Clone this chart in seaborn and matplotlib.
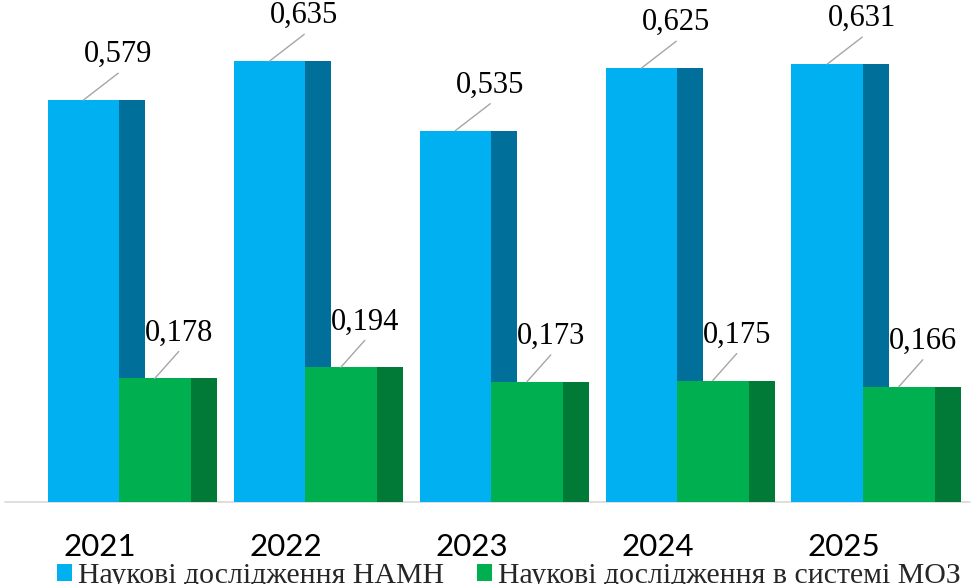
import matplotlib
matplotlib.use("Agg")
import matplotlib.pyplot as plt
import seaborn as sns
import pandas as pd
from matplotlib.patches import Rectangle, Patch

years = ["2021", "2022", "2023", "2024", "2025"]
series_names = ["Наукові дослідження НАМН", "Наукові дослідження в системі МОЗ"]
namn_values = [0.579, 0.635, 0.535, 0.625, 0.631]
moz_values = [0.178, 0.194, 0.173, 0.175, 0.166]

front_colors = ["#00B0F0", "#00B050"]
side_colors = ["#006F9A", "#007A36"]

df = pd.DataFrame({
    "year": years * 2,
    "series": [series_names[0]] * len(years) + [series_names[1]] * len(years),
    "value": namn_values + moz_values,
})

sns.set_style("white")
plt.rcParams["font.family"] = ["DejaVu Sans"]

W, H = 974, 584
fig = plt.figure(figsize=(W / 100, H / 100), dpi=100)
ax = fig.add_axes([0, 0, 1, 1])

period_px = 186.0
unit_px = 694.0
cat0_px = 119.0
base_px = 502.0

sns.barplot(data=df, x="year", y="value", hue="series", hue_order=series_names,
            palette=front_colors, width=143 / period_px, gap=0, legend=False,
            linewidth=0, saturation=1, ax=ax, errorbar=None)

ax.set_xlim(-cat0_px / period_px, (W - cat0_px) / period_px)
ax.set_ylim(-(H - base_px) / unit_px, base_px / unit_px)
ax.axis("off")

side_w = 26 / period_px
for si, cont in enumerate(ax.containers):
    for bar in cont.patches:
        bar.set_zorder(2 + 2 * si)
        x0 = bar.get_x() + bar.get_width()
        h = bar.get_height()
        ax.add_patch(Rectangle((x0, 0), side_w, h, facecolor=side_colors[si],
                               edgecolor="none", zorder=2.5 + 2 * si))

# baseline
ax.plot([-cat0_px / period_px + 5 / period_px, -cat0_px / period_px + 970 / period_px],
        [0, 0], color="#D9D9D9", lw=1.2, zorder=1)

# value labels with leader lines
label_dx_px = [35, 24]
for si, cont in enumerate(ax.containers):
    for bar in cont.patches:
        cx = bar.get_x() + bar.get_width() / 2
        top = bar.get_height()
        lx = cx + label_dx_px[si] / period_px
        ax.plot([cx, lx], [top, top + 27 / unit_px], color="#A6A6A6", lw=1.0, zorder=10)
        ax.text(lx, top + 38 / unit_px, f"{top:.3f}".replace(".", ","),
                ha="center", va="baseline", fontsize=22,
                family=["Liberation Serif"], color="#000000", zorder=11)

# year labels
for i, y in enumerate(years):
    ax.text(i - 19 / period_px, -(556 - base_px) / unit_px, y, ha="center",
            va="baseline", fontsize=22.5, family=["Lato", "DejaVu Sans"], color="#000000")

handles = [Patch(facecolor=c, edgecolor="none") for c in front_colors]
fig.legend(handles, series_names, loc="lower left", bbox_to_anchor=(57 / W, -5 / H),
           ncol=2, frameon=False, prop={"family": "Liberation Serif", "size": 21.5},
           handlelength=0.5, handleheight=0.5, handletextpad=0.2, columnspacing=1.1,
           borderpad=0.0, borderaxespad=0.0)

fig.savefig("out.png", dpi=100)
